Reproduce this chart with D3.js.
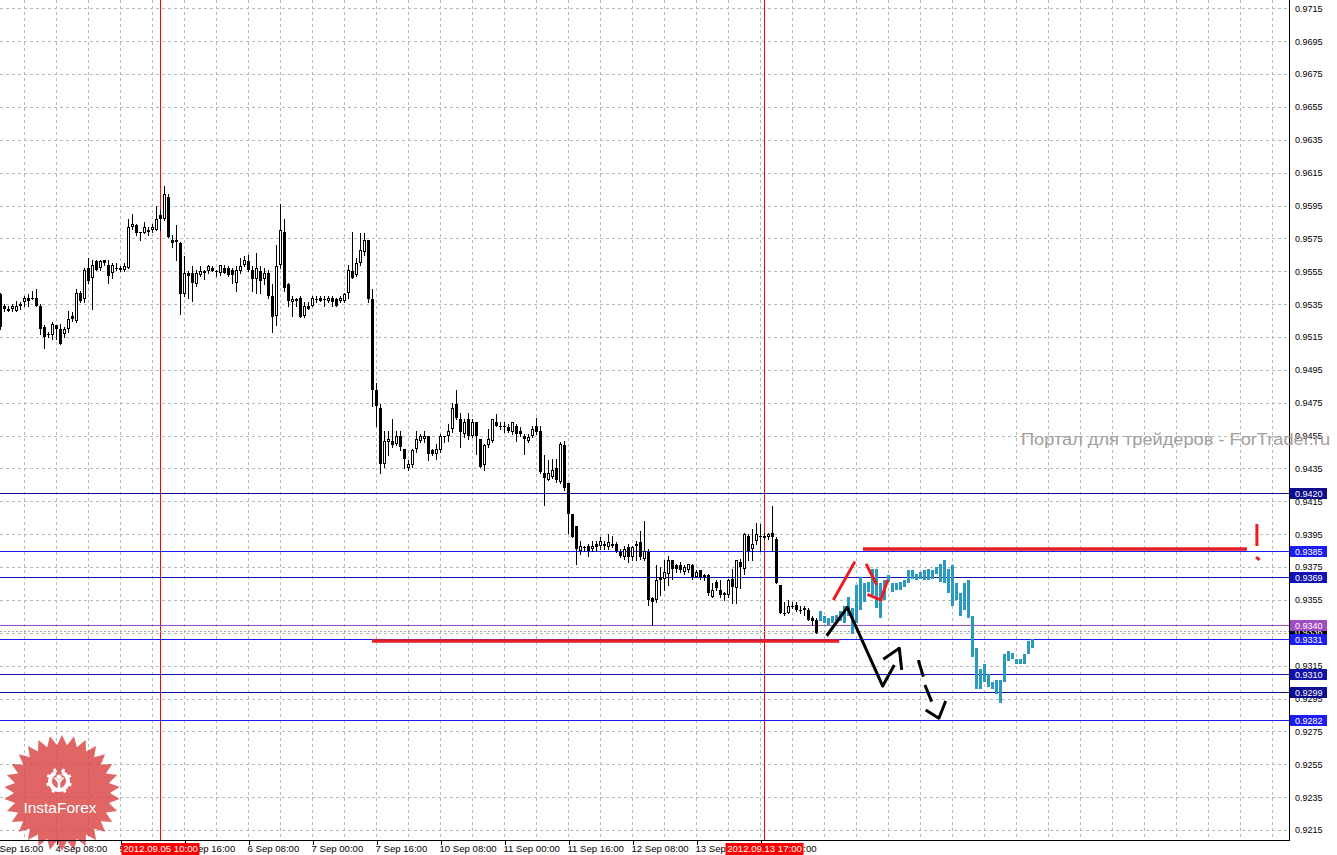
<!DOCTYPE html>
<html>
<head>
<meta charset="utf-8">
<script src="https://cdn.jsdelivr.net/npm/d3@7"></script>
<style>
  body { margin: 0; background: #fff; }
  svg { display: block; font-family: "Liberation Sans", Arial, sans-serif; }
</style>
</head>
<body>
<svg id="chart" width="1337" height="855"></svg>
<script>
// H1 candles, bar 0 = 3 Sep 18:00 (weekend gap skipped)
var opens = [
  .9541,.9534,.9532,.9532,.9531,.9534,.9536,.9539,.9539,.9539,
  .9534,.9521,.9517,.9516,.9522,.9520,.9517,.9520,.9528,.9525,
  .9542,.9538,.9557,.9551,.9561,.9557,.9562,.9559,.9554,.9557,
  .9557,.9556,.9557,.9582,.9583,.9579,.9578,.9580,.9580,.9580,
  .9589,.9587,.9600,.9574,.9574,.9572,.9541,.9554,.9554,.9547,
  .9553,.9555,.9555,.9557,.9555,.9554,.9557,.9557,.9556,.9548,
  .9555,.9559,.9561,.9556,.9550,.9555,.9550,.9554,.9540,.9528,
  .9559,.9579,.9547,.9536,.9538,.9539,.9528,.9534,.9534,.9538,
  .9539,.9538,.9537,.9539,.9538,.9537,.9537,.9542,.9555,.9553,
  .9560,.9567,.9574,.9538,.9483,.9472,.9438,.9451,.9452,.9450,
  .9455,.9447,.9435,.9437,.9447,.9452,.9453,.9455,.9446,.9444,
  .9446,.9455,.9455,.9459,.9474,.9465,.9456,.9465,.9455,.9463,
  .9453,.9437,.9449,.9452,.9463,.9461,.9461,.9460,.9457,.9461,
  .9458,.9455,.9452,.9455,.9461,.9458,.9432,.9428,.9430,.9435,
  .9427,.9449,.9426,.9407,.9400,.9385,.9387,.9388,.9386,.9389,
  .9388,.9389,.9387,.9389,.9389,.9384,.9381,.9387,.9381,.9388,
  .9390,.9380,.9384,.9356,.9355,.9369,.9368,.9371,.9379,.9376,
  .9376,.9372,.9373,.9376,.9369,.9373,.9370,.9370,.9357,.9366,
  .9361,.9359,.9358,.9368,.9362,.9378,.9374,.9394,.9386,.9391,
  .9394,.9393,.9393,.9396,.9392,.9364,.9347,.9347,.9351,.9352,
  .9349,.9350,.9349,.9344,.9343
];
var highs = [
  .9542,.9535,.9534,.9535,.9537,.9536,.9540,.9541,.9543,.9544,
  .9535,.9522,.9518,.9524,.9522,.9523,.9521,.9531,.9530,.9544,
  .9543,.9557,.9563,.9562,.9562,.9562,.9562,.9562,.9560,.9560,
  .9558,.9560,.9587,.9590,.9584,.9579,.9585,.9582,.9584,.9595,
  .9592,.9607,.9602,.9577,.9583,.9573,.9564,.9555,.9558,.9556,
  .9558,.9556,.9559,.9558,.9556,.9559,.9559,.9558,.9557,.9558,
  .9563,.9564,.9565,.9558,.9566,.9558,.9557,.9556,.9547,.9571,
  .9596,.9587,.9548,.9540,.9539,.9540,.9536,.9536,.9540,.9540,
  .9540,.9540,.9540,.9540,.9539,.9540,.9542,.9559,.9579,.9563,
  .9578,.9578,.9574,.9544,.9487,.9474,.9458,.9458,.9465,.9458,
  .9458,.9447,.9440,.9447,.9458,.9456,.9458,.9455,.9447,.9450,
  .9456,.9455,.9462,.9475,.9483,.9469,.9465,.9469,.9465,.9463,
  .9453,.9450,.9459,.9465,.9468,.9463,.9463,.9462,.9463,.9462,
  .9460,.9456,.9456,.9461,.9466,.9461,.9443,.9440,.9441,.9441,
  .9451,.9452,.9426,.9407,.9400,.9391,.9388,.9389,.9391,.9391,
  .9393,.9391,.9395,.9394,.9390,.9386,.9388,.9389,.9388,.9391,
  .9397,.9403,.9386,.9357,.9376,.9375,.9379,.9382,.9379,.9377,
  .9378,.9376,.9377,.9377,.9373,.9373,.9371,.9371,.9365,.9367,
  .9367,.9360,.9368,.9374,.9379,.9380,.9396,.9395,.9398,.9402,
  .9401,.9396,.9396,.9412,.9393,.9364,.9354,.9355,.9354,.9354,
  .9351,.9351,.9350,.9345,.9344
];
var lows = [
  .9520,.9531,.9531,.9531,.9531,.9532,.9534,.9534,.9538,.9534,
  .9517,.9508,.9515,.9514,.9514,.9511,.9515,.9518,.9525,.9524,
  .9536,.9536,.9548,.9532,.9556,.9556,.9559,.9548,.9551,.9556,
  .9555,.9555,.9557,.9581,.9577,.9574,.9578,.9577,.9579,.9580,
  .9580,.9586,.9576,.9570,.9562,.9529,.9540,.9539,.9537,.9546,
  .9552,.9550,.9554,.9555,.9552,.9553,.9554,.9552,.9548,.9543,
  .9554,.9558,.9555,.9543,.9542,.9542,.9547,.9539,.9518,.9522,
  .9557,.9543,.9534,.9528,.9534,.9527,.9527,.9532,.9534,.9536,
  .9537,.9534,.9536,.9534,.9534,.9536,.9536,.9539,.9551,.9552,
  .9559,.9565,.9536,.9473,.9461,.9432,.9436,.9443,.9448,.9449,
  .9446,.9435,.9434,.9436,.9445,.9451,.9451,.9440,.9443,.9441,
  .9445,.9451,.9452,.9457,.9465,.9448,.9454,.9453,.9454,.9444,
  .9436,.9434,.9448,.9451,.9461,.9459,.9457,.9457,.9456,.9452,
  .9455,.9444,.9451,.9454,.9456,.9432,.9413,.9428,.9429,.9427,
  .9426,.9422,.9396,.9393,.9377,.9383,.9385,.9382,.9385,.9385,
  .9386,.9386,.9386,.9387,.9384,.9381,.9380,.9378,.9379,.9379,
  .9380,.9379,.9352,.9340,.9354,.9358,.9361,.9364,.9368,.9372,
  .9372,.9371,.9372,.9368,.9369,.9368,.9367,.9358,.9357,.9361,
  .9357,.9355,.9357,.9353,.9353,.9362,.9371,.9379,.9379,.9389,
  .9385,.9392,.9392,.9385,.9365,.9347,.9346,.9347,.9350,.9348,
  .9347,.9346,.9343,.9340,.9335
];
var closes = [
  .9521,.9532,.9531,.9534,.9534,.9535,.9539,.9537,.9538,.9534,
  .9520,.9515,.9517,.9523,.9520,.9511,.9520,.9526,.9526,.9542,
  .9537,.9556,.9549,.9559,.9556,.9561,.9560,.9552,.9559,.9557,
  .9556,.9558,.9582,.9584,.9578,.9578,.9582,.9579,.9582,.9587,
  .9587,.9602,.9576,.9572,.9573,.9541,.9554,.9552,.9548,.9554,
  .9555,.9554,.9558,.9555,.9555,.9559,.9554,.9553,.9553,.9556,
  .9558,.9562,.9556,.9550,.9557,.9549,.9554,.9540,.9527,.9558,
  .9580,.9545,.9537,.9538,.9537,.9527,.9534,.9532,.9539,.9538,
  .9537,.9538,.9539,.9536,.9534,.9539,.9541,.9556,.9551,.9560,
  .9568,.9574,.9538,.9483,.9473,.9438,.9452,.9453,.9449,.9455,
  .9448,.9441,.9438,.9446,.9453,.9455,.9455,.9444,.9444,.9447,
  .9455,.9455,.9458,.9472,.9466,.9457,.9463,.9455,.9463,.9455,
  .9436,.9449,.9453,.9465,.9461,.9460,.9460,.9458,.9463,.9456,
  .9456,.9453,.9454,.9459,.9457,.9433,.9429,.9432,.9434,.9428,
  .9450,.9423,.9407,.9393,.9386,.9388,.9387,.9385,.9388,.9387,
  .9391,.9388,.9390,.9388,.9385,.9382,.9386,.9381,.9387,.9389,
  .9381,.9385,.9355,.9354,.9367,.9367,.9372,.9379,.9374,.9374,
  .9373,.9375,.9377,.9369,.9372,.9369,.9369,.9359,.9361,.9362,
  .9358,.9358,.9367,.9363,.9379,.9375,.9395,.9385,.9389,.9395,
  .9393,.9394,.9395,.9393,.9365,.9347,.9347,.9351,.9351,.9349,
  .9349,.9349,.9343,.9342,.9335
];

// forecast bars (cyan), they follow the last candle
var forecastHigh = [
  .9348,.9345,.9344,.9345,.9346,.9348,.9351,.9357,.9350,.9364,
  .9369,.9365,.9366,.9374,.9374,.9365,.9367,.9370,.9365,.9365,
  .9366,.9367,.9373,.9373,.9371,.9372,.9373,.9374,.9373,.9375,
  .9377,.9379,.9374,.9376,.9365,.9359,.9365,.9367,.9345,.9326,
  .9313,.9316,.9310,.9305,.9306,.9306,.9322,.9324,.9323,.9319,
  .9319,.9322,.9330,.9331
];
var forecastLow = [
  .9342,.9341,.9339,.9341,.9342,.9342,.9341,.9345,.9334,.9341,
  .9349,.9354,.9360,.9358,.9350,.9344,.9355,.9366,.9360,.9361,
  .9361,.9363,.9365,.9368,.9367,.9368,.9367,.9367,.9368,.9371,
  .9366,.9365,.9359,.9351,.9355,.9345,.9349,.9344,.9320,.9301,
  .9301,.9305,.9302,.9301,.9298,.9292,.9305,.9318,.9319,.9316,
  .9316,.9316,.9322,.9326
];

var priceTicks = [0.9215,0.9235,0.9255,0.9275,0.9295,0.9315,0.9335,0.9355,0.9375,0.9395,
  0.9415,0.9435,0.9455,0.9475,0.9495,0.9515,0.9535,0.9555,0.9575,0.9595,
  0.9615,0.9635,0.9655,0.9675,0.9695,0.9715];

var timeLabels = ["3 Sep 16:00","4 Sep 08:00","5 Sep 00:00","5 Sep 16:00","6 Sep 08:00",
  "7 Sep 00:00","7 Sep 16:00","10 Sep 08:00","11 Sep 00:00","11 Sep 16:00",
  "12 Sep 08:00","13 Sep 00:00","13 Sep 16:00"];
var timeLabelBars = [-2,14,30,46,62,78,94,110,126,142,158,174,190];

var markerBars = [40, 191];
var markerLabels = ["2012.09.05 10:00", "2012.09.13 17:00"];

var levelPrices = [0.9420, 0.9385, 0.9369, 0.9340, 0.9331, 0.9310, 0.9299, 0.9282];
var levelColors = ["#0c0c8c", "#1c1cf4", "#1212b4", "#a04cc2", "#1c1cf4", "#1212a8", "#0c0c92", "#1c1cf4"];
var bidPrice = 0.9336;

// hand drawn annotations, [bar, price]
var redZones = [
  [[92.9, 0.9330], [209.7, 0.9330]],
  [[215.6, 0.9386], [311.6, 0.9386]]
];
var redStrokes = [
  [[208.2, 0.93550], [213.6, 0.93783]],
  [[216.4, 0.93769], [219.05, 0.93641]],
  [[216.7, 0.93584], [220.05, 0.93550], [221.8, 0.93671]],
  [[314.1, 0.94012], [314.1, 0.93878]],
  [[313.9, 0.93811], [314.75, 0.93793]]
];
var blackStrokes = [
  [[206.55, 0.93332], [211.7, 0.93505], [220.55, 0.93026], [223.45, 0.93154]],
  [[220.7, 0.93189], [224.7, 0.93256], [225.3, 0.93124]],
  [[229.45, 0.93184], [230.7, 0.93083]],
  [[231.1, 0.93032], [232.8, 0.92931]],
  [[231.3, 0.92880], [234.6, 0.92830], [236.3, 0.92935]]
];

var svg = d3.select("#chart");
var plotRight = 1289, plotBottom = 840.5;

var x = d3.scaleLinear().domain([0, 322]).range([0.5, 1288.5]);
var y = d3.scaleLinear().domain([0.9215, 0.9715]).range([830, 8.3]);

// grid
var grid = svg.append("g").attr("stroke", "#b4bcb4").attr("stroke-dasharray", "3,3")
  .attr("shape-rendering", "crispEdges");
grid.selectAll("line.v").data(d3.range(6, 322, 8)).enter().append("line")
  .attr("x1", d => x(d)).attr("x2", d => x(d)).attr("y1", 0).attr("y2", plotBottom);
grid.selectAll("line.h").data(priceTicks).enter().append("line")
  .attr("x1", 0).attr("x2", plotRight).attr("y1", d => Math.round(y(d)) + 0.5).attr("y2", d => Math.round(y(d)) + 0.5);

// logo (semi transparent, behind labels)
var logo = svg.append("g").attr("transform", "translate(62,793)");
var starPts = d3.range(60).map(function(k) {
  var a = k * Math.PI / 30 - Math.PI / 2, r = k % 2 ? 48 : 58;
  return [r * Math.cos(a), r * Math.sin(a)];
});
logo.append("path").attr("d", "M" + starPts.join("L") + "Z")
  .attr("fill", "#d94444").attr("opacity", 0.82);
var icon = logo.append("g").attr("transform", "translate(-3,-12)").attr("fill", "#fff");
icon.append("path").attr("d", d3.arc().innerRadius(7).outerRadius(11).startAngle(Math.PI * 0.62).endAngle(Math.PI * 1.38)()
  ).attr("transform", "rotate(0)");
icon.append("path").attr("d", d3.arc().innerRadius(7).outerRadius(11).startAngle(-Math.PI * 0.62).endAngle(-Math.PI * 0.12)());
icon.append("path").attr("d", d3.arc().innerRadius(7).outerRadius(11).startAngle(Math.PI * 0.12).endAngle(Math.PI * 0.62)());
d3.range(8).forEach(function(k) {
  var a = -150 + k * 43;
  icon.append("rect").attr("x", -1.5).attr("y", -13).attr("width", 3).attr("height", 4)
    .attr("transform", "rotate(" + a + ")");
});
icon.append("circle").attr("cx", 0).attr("cy", -4).attr("r", 2.6);
icon.append("rect").attr("x", -1.3).attr("y", -1).attr("width", 2.6).attr("height", 10);
icon.append("path").attr("d", "M-5,-3 L-1,2 L1,2 L5,-3 L4,-4 L0,0 L-4,-4Z");
logo.append("text").attr("x", -2).attr("y", 20).attr("text-anchor", "middle")
  .attr("fill", "#fff").style("font-size", "15.5px").text("InstaForex");

// period markers
svg.selectAll("line.marker").data(markerBars).enter().append("line")
  .attr("x1", d => x(d)).attr("x2", d => x(d)).attr("y1", 0).attr("y2", plotBottom)
  .attr("stroke", "#ff0000").attr("shape-rendering", "crispEdges");

// horizontal levels
svg.append("line").attr("x1", 0).attr("x2", plotRight)
  .attr("y1", Math.round(y(bidPrice)) + 0.5).attr("y2", Math.round(y(bidPrice)) + 0.5)
  .attr("stroke", "#a8a8a8").attr("stroke-dasharray", "2,2").attr("shape-rendering", "crispEdges");
svg.selectAll("line.level").data(levelPrices).enter().append("line")
  .attr("x1", 0).attr("x2", plotRight)
  .attr("y1", d => Math.round(y(d)) + 0.5).attr("y2", d => Math.round(y(d)) + 0.5)
  .attr("stroke", (d, i) => levelColors[i]).attr("shape-rendering", "crispEdges");

// candles
var candles = opens.map(function(o, i) {
  return {i: i, o: o, h: highs[i], l: lows[i], c: closes[i]};
});
var cg = svg.append("g").attr("shape-rendering", "crispEdges");
cg.selectAll("line.wick").data(candles).enter().append("line")
  .attr("x1", d => x(d.i)).attr("x2", d => x(d.i))
  .attr("y1", d => Math.round(y(d.h))).attr("y2", d => Math.round(y(d.l)) + 1)
  .attr("stroke", "#000");
cg.selectAll("rect.body").data(candles).enter().append("rect")
  .attr("x", d => d.c > d.o ? x(d.i) - 1 : x(d.i) - 1.5)
  .attr("y", d => d.c > d.o ? Math.round(y(d.c)) + 0.5 : Math.round(y(Math.max(d.o, d.c))))
  .attr("width", d => d.c > d.o ? 2 : 3)
  .attr("height", function(d) {
    var h = Math.round(y(Math.min(d.o, d.c))) - Math.round(y(Math.max(d.o, d.c)));
    return d.c > d.o ? Math.max(1, h - 1) : Math.max(1, h);
  })
  .attr("fill", d => d.c > d.o ? "#fff" : "#000")
  .attr("stroke", d => d.c > d.o ? "#000" : "none");

// forecast bars
var fStart = opens.length;
cg.selectAll("rect.fc").data(forecastHigh).enter().append("rect")
  .attr("x", (d, j) => x(fStart + j) - 1.5)
  .attr("y", d => Math.round(y(d)))
  .attr("width", 3)
  .attr("height", (d, j) => Math.max(2, Math.round(y(forecastLow[j])) - Math.round(y(d))))
  .attr("fill", "#2a9bbf");

// annotations
var line = d3.line().x(d => x(d[0])).y(d => y(d[1]));
svg.selectAll("path.zone").data(redZones).enter().append("path")
  .attr("d", line).attr("stroke", "#e61e28").attr("stroke-width", 3.5).attr("fill", "none");
svg.selectAll("path.rs").data(redStrokes).enter().append("path")
  .attr("d", line).attr("stroke", "#ec1c24").attr("stroke-width", 3)
  .attr("fill", "none").attr("stroke-linejoin", "round");
svg.selectAll("path.bs").data(blackStrokes).enter().append("path")
  .attr("d", line).attr("stroke", "#000").attr("stroke-width", 3)
  .attr("fill", "none").attr("stroke-linejoin", "round");

// axes
svg.append("line").attr("x1", 0).attr("x2", plotRight + 0.5).attr("y1", plotBottom).attr("y2", plotBottom)
  .attr("stroke", "#000").attr("shape-rendering", "crispEdges");
svg.append("line").attr("x1", plotRight + 0.5).attr("x2", plotRight + 0.5).attr("y1", 0).attr("y2", plotBottom)
  .attr("stroke", "#000").attr("shape-rendering", "crispEdges");

var yAxis = svg.append("g").attr("transform", "translate(" + plotRight + ",0)")
  .call(d3.axisRight(y).tickValues(priceTicks).tickSize(0).tickPadding(6).tickFormat(d3.format(".4f")));
yAxis.select(".domain").remove();
yAxis.selectAll("text").attr("fill", "#000").style("font-size", "9px")
  .style("font-family", "'Liberation Sans', Arial, sans-serif");

var xAxis = svg.append("g").attr("transform", "translate(0," + plotBottom + ")")
  .call(d3.axisBottom(x).tickValues(timeLabelBars).tickSize(4).tickFormat((d, j) => timeLabels[j]));
xAxis.select(".domain").remove();
xAxis.selectAll("line").attr("shape-rendering", "crispEdges");
xAxis.selectAll("text").attr("text-anchor", "start").attr("x", -1.5).attr("y", 5)
  .attr("fill", "#000").style("font-size", "9.6px")
  .style("font-family", "'Liberation Sans', Arial, sans-serif");

// price labels on the right
function priceTag(p, color) {
  var cy = Math.round(y(p)) + 0.5;
  svg.append("rect").attr("x", plotRight + 1).attr("y", cy - 5.5).attr("width", 37).attr("height", 11)
    .attr("fill", color).attr("shape-rendering", "crispEdges");
  svg.append("text").attr("x", plotRight + 6).attr("y", cy).attr("dy", "0.34em")
    .attr("fill", "#fff").style("font-size", "9px").text(d3.format(".4f")(p));
}
priceTag(bidPrice, "#000");
levelPrices.forEach((p, i) => priceTag(p, levelColors[i]));

// date markers under the axis
markerBars.forEach(function(b, i) {
  var cx = x(b);
  svg.append("rect").attr("x", cx - 39).attr("y", 843).attr("width", 78).attr("height", 12)
    .attr("fill", "#ff0000");
  svg.append("text").attr("x", cx).attr("y", 852).attr("text-anchor", "middle")
    .attr("fill", "#fff").style("font-size", "9.6px").text(markerLabels[i]);
});

// watermark
svg.append("text").attr("x", 1021).attr("y", 445).attr("fill", "#a59d9d")
  .attr("textLength", 309).attr("lengthAdjust", "spacingAndGlyphs")
  .style("font-size", "16px").text("Портал для трейдеров - ForTrader.ru");
</script>
</body>
</html>
